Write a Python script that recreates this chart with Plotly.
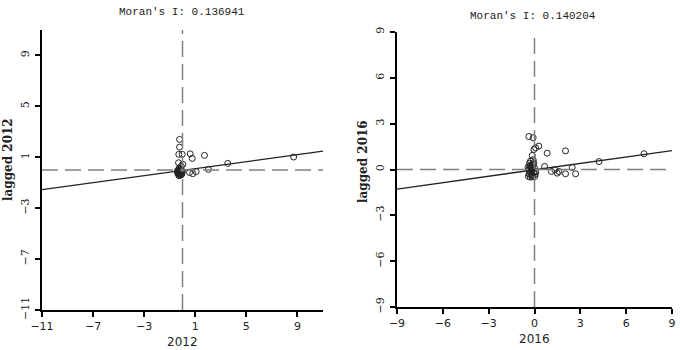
import plotly.graph_objects as go

# ---- data ----
x2012 = [-0.23, -0.23, -0.29, -0.02, 0.60, 0.76, 1.72, -0.31, 0.03, -0.10, 0.55, 0.80, 1.07, 2.03, 3.54, 8.70,
         -0.35, -0.30, -0.25, -0.20, -0.15, -0.30, -0.22, -0.10, -0.05, -0.28, -0.18, -0.12, -0.33, -0.08,
         -0.25, -0.20, -0.15, -0.38, 0.00, -0.10, -0.40, -0.27]
y2012 = [2.40, 1.80, 1.23, 1.23, 1.27, 0.91, 1.15, 0.57, 0.44, 0.31, -0.20, -0.29, -0.13, 0.05, 0.52, 1.02,
         -0.30, -0.20, -0.35, -0.10, -0.25, 0.00, 0.10, -0.05, -0.30, -0.45, -0.40, 0.05, -0.10, -0.15,
         0.15, -0.20, 0.00, -0.20, -0.10, -0.38, -0.05, -0.30]

x2016 = [-0.37, -0.09, 0.28, -0.04, 0.07, -0.15, 0.83, 2.03, -0.26, -0.09, 0.66, 1.11, 1.33, 1.49, 1.60, 2.03,
         2.47, 2.69, 4.22, 7.17,
         -0.40, -0.35, -0.30, -0.25, -0.20, -0.15, -0.10, -0.05, 0.00, 0.05, -0.42, -0.33, -0.28, -0.18,
         -0.12, -0.08, 0.02, -0.38, -0.22, -0.30, -0.15, -0.05, -0.25, -0.35, 0.08]
y2016 = [2.16, 2.08, 1.53, 1.31, 1.42, 0.92, 1.07, 1.22, 0.55, 0.64, 0.20, -0.13, -0.02, -0.24, -0.13, -0.28,
         0.13, -0.28, 0.52, 1.03,
         -0.45, -0.30, -0.15, 0.00, 0.20, 0.35, -0.40, -0.20, 0.10, -0.30, 0.15, 0.40, -0.50, -0.10,
         0.05, 0.30, -0.45, -0.05, -0.35, 0.25, -0.48, 0.45, 0.10, 0.05, -0.15]

moran = {"2012": 0.136941, "2016": 0.140204}
intercept = {"2012": -0.03, "2016": -0.02}

xticks_2012 = [-11, -7, -3, 1, 5, 9]
yticks_2012 = [-11, -7, -3, 1, 5, 9]
xticks_2016 = [-9, -6, -3, 0, 3, 6, 9]
yticks_2016 = [-9, -6, -3, 0, 3, 6, 9]
range_2012 = [-11, 11]
range_2016 = [-9, 9]

W, H = 680, 350

def px(v):
    return v / W

def py(v):
    return 1 - v / H

fig = go.Figure()

panels = [
    ("2012", x2012, y2012, range_2012, xticks_2012, yticks_2012, "x", "y",
     [px(42), px(323)], [py(310), py(30)]),
    ("2016", x2016, y2016, range_2016, xticks_2016, yticks_2016, "x2", "y2",
     [px(397), px(672)], [py(307), py(32)]),
]

layout_axes = {}
for i, (yr, xs, ys, rng, xt, yt, xa, ya, xdom, ydom) in enumerate(panels):
    s = moran[yr]
    b = intercept[yr]
    fig.add_trace(go.Scatter(x=rng, y=[s * rng[0] + b, s * rng[1] + b], mode="lines",
                             line=dict(color="#222222", width=1.3), xaxis=xa, yaxis=ya,
                             showlegend=False, hoverinfo="skip"))
    fig.add_trace(go.Scatter(x=xs, y=ys, mode="markers",
                             marker=dict(symbol="circle-open", size=6, color="#222222",
                                         line=dict(width=1, color="#222222")),
                             xaxis=xa, yaxis=ya, showlegend=False))
    # dashed reference lines at 0
    fig.add_shape(type="line", xref=xa, yref=ya + " domain", x0=0, x1=0, y0=0, y1=1,
                  line=dict(color="#808080", width=1.5, dash="16px,7px"))
    fig.add_shape(type="line", xref=xa + " domain", yref=ya, x0=0, x1=1, y0=0, y1=0,
                  line=dict(color="#808080", width=1.5, dash="16px,7px"))
    sfx = "" if i == 0 else "2"
    layout_axes["xaxis" + sfx] = dict(
        domain=xdom, range=rng, tickvals=xt, ticktext=[str(v).replace("-", "−") for v in xt],
        showgrid=False, zeroline=False, showline=True, linecolor="black", linewidth=1.5,
        ticks="outside", ticklen=5, tickwidth=1.5, tickcolor="black", automargin=False,
        tickfont=dict(family="DejaVu Sans", size=11, color="#222222"),
        anchor=ya, fixedrange=True)
    layout_axes["yaxis" + sfx] = dict(
        domain=ydom, range=rng, tickvals=yt, ticktext=[str(v).replace("-", "−") for v in yt],
        showgrid=False, zeroline=False, showline=True, linecolor="black", linewidth=1.5,
        ticks="outside", ticklen=5, tickwidth=1.5, tickcolor="black", tickangle=-90,
        automargin=False, ticklabelstandoff=2,
        tickfont=dict(family="DejaVu Serif", size=11, color="#222222"),
        anchor=xa, fixedrange=True)

def ann(text, x, y, font, angle=0):
    return dict(text=text, x=px(x), y=py(y), xref="paper", yref="paper", xanchor="center",
                yanchor="middle", textangle=angle, showarrow=False, font=font)

mono = dict(family="Liberation Mono", size=11, color="#222222")
sans = dict(family="DejaVu Sans", size=12, color="#222222")
serif = dict(family="DejaVu Serif", size=12, color="#222222")

annotations = [
    ann("Moran's I: 0.136941", 182, 12, mono),
    ann("Moran's I: 0.140204", 533, 16, mono),
    ann("2012", 182, 342, sans),
    ann("2016", 534, 339, sans),
    ann("<b>lagged 2012</b>", 8, 160, serif, -90),
    ann("<b>lagged 2016</b>", 363, 162, serif, -90),
]

fig.update_layout(width=W, height=H, margin=dict(l=0, r=0, t=0, b=0),
                  paper_bgcolor="white", plot_bgcolor="white",
                  annotations=annotations, **layout_axes)

fig.write_html("out.html")
